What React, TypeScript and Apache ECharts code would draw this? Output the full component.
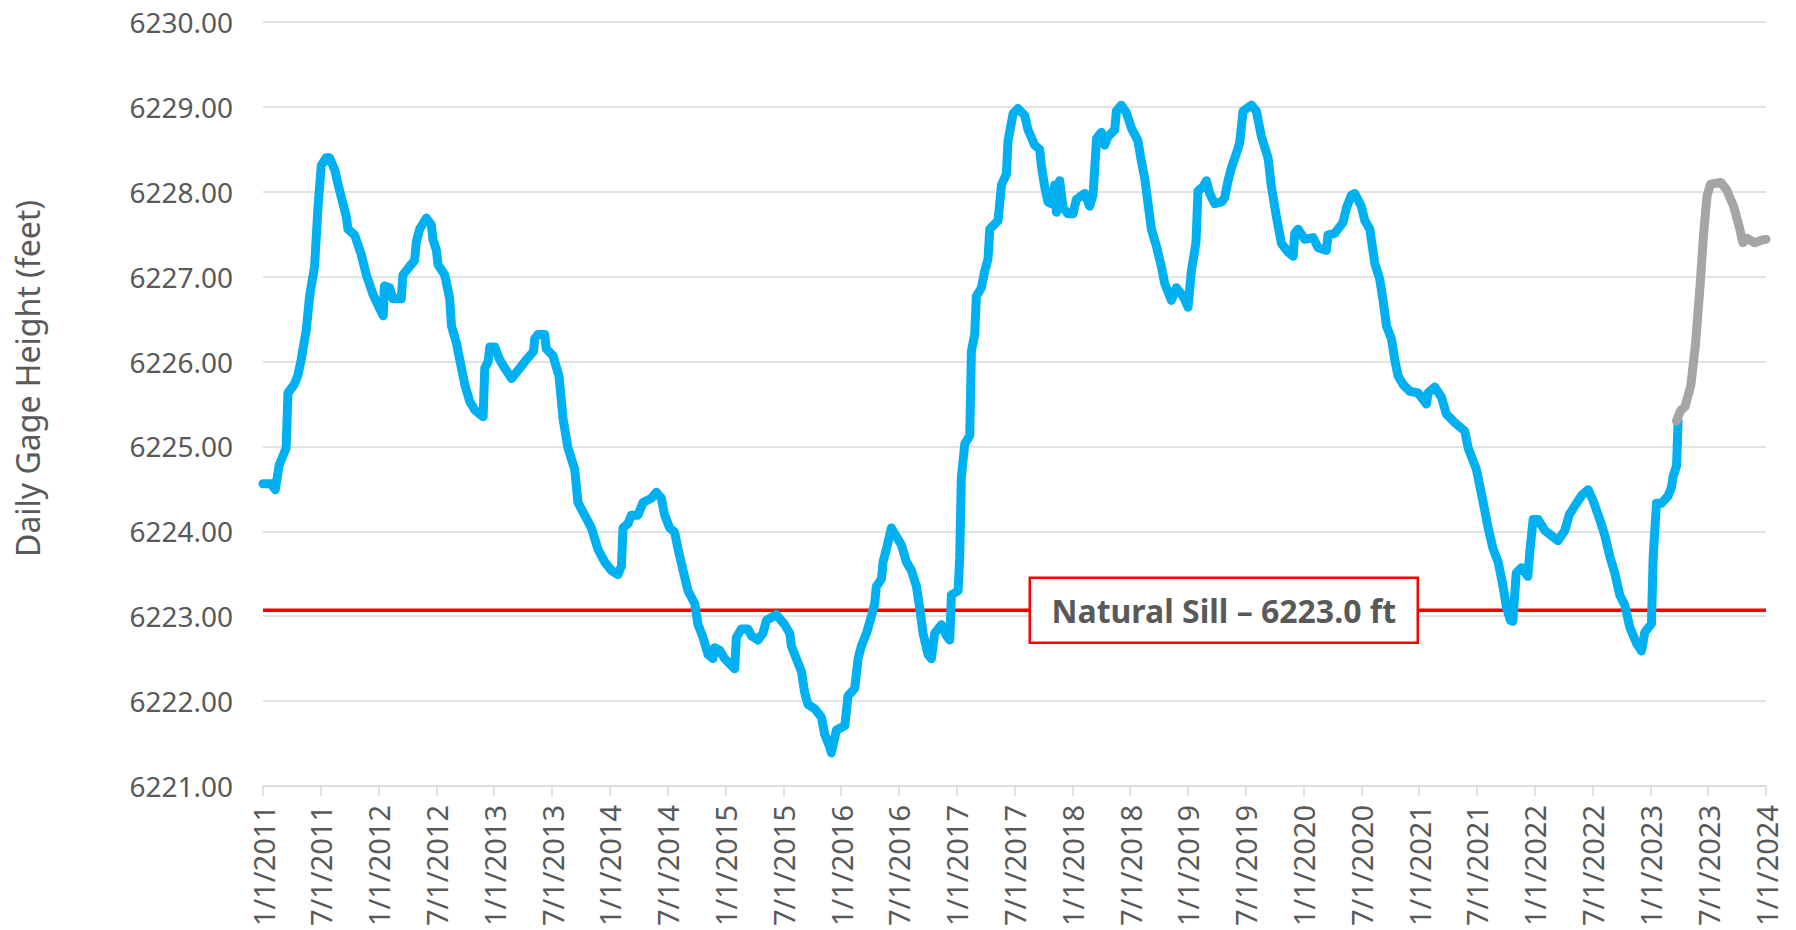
import React, { useEffect, useRef } from "react";
import * as echarts from "echarts";

// x values are decimal years (2011.5 = 7/1/2011)
const blueDates = [
  2011.0, 2011.07, 2011.106, 2011.14, 2011.2, 2011.216, 2011.27, 2011.3, 2011.33, 2011.374,
  2011.403, 2011.446, 2011.475, 2011.504, 2011.547, 2011.576, 2011.62, 2011.663, 2011.72, 2011.735,
  2011.793, 2011.85, 2011.894, 2011.952, 2012.01, 2012.04, 2012.05, 2012.095, 2012.124, 2012.196,
  2012.21, 2012.268, 2012.311, 2012.326, 2012.355, 2012.413, 2012.456, 2012.47, 2012.5, 2012.514,
  2012.572, 2012.615, 2012.63, 2012.673, 2012.702, 2012.745, 2012.788, 2012.832, 2012.904, 2012.918,
  2012.947, 2012.962, 2013.005, 2013.048, 2013.092, 2013.15, 2013.22, 2013.277, 2013.34, 2013.35,
  2013.378, 2013.436, 2013.45, 2013.508, 2013.56, 2013.595, 2013.638, 2013.696, 2013.724, 2013.782,
  2013.84, 2013.897, 2013.955, 2014.013, 2014.07, 2014.1, 2014.114, 2014.157, 2014.186, 2014.243,
  2014.287, 2014.359, 2014.402, 2014.445, 2014.474, 2014.517, 2014.56, 2014.59, 2014.633, 2014.676,
  2014.734, 2014.763, 2014.806, 2014.849, 2014.892, 2014.907, 2014.95, 2014.993, 2015.08, 2015.094,
  2015.137, 2015.195, 2015.224, 2015.281, 2015.325, 2015.354, 2015.44, 2015.512, 2015.556, 2015.57,
  2015.613, 2015.657, 2015.685, 2015.714, 2015.772, 2015.83, 2015.858, 2015.902, 2015.916, 2015.96,
  2016.032, 2016.06, 2016.118, 2016.147, 2016.176, 2016.22, 2016.262, 2016.291, 2016.305, 2016.349,
  2016.363, 2016.392, 2016.435, 2016.478, 2016.522, 2016.565, 2016.608, 2016.652, 2016.68, 2016.709,
  2016.752, 2016.781, 2016.81, 2016.868, 2016.911, 2016.94, 2016.954, 2017.012, 2017.026, 2017.04,
  2017.07, 2017.113, 2017.127, 2017.156, 2017.17, 2017.214, 2017.243, 2017.271, 2017.286, 2017.358,
  2017.387, 2017.43, 2017.444, 2017.488, 2017.53, 2017.588, 2017.617, 2017.674, 2017.718, 2017.732,
  2017.761, 2017.79, 2017.819, 2017.848, 2017.862, 2017.891, 2017.92, 2017.963, 2018.006, 2018.035,
  2018.107, 2018.15, 2018.179, 2018.193, 2018.21, 2018.251, 2018.28, 2018.309, 2018.367, 2018.381,
  2018.424, 2018.468, 2018.511, 2018.568, 2018.597, 2018.626, 2018.655, 2018.684, 2018.727, 2018.77,
  2018.799, 2018.828, 2018.857, 2018.9, 2018.958, 2019.001, 2019.03, 2019.059, 2019.07, 2019.087,
  2019.131, 2019.16, 2019.188, 2019.232, 2019.29, 2019.318, 2019.347, 2019.376, 2019.419, 2019.448,
  2019.477, 2019.549, 2019.592, 2019.636, 2019.693, 2019.722, 2019.765, 2019.809, 2019.866, 2019.91,
  2019.924, 2019.953, 2020.01, 2020.083, 2020.126, 2020.198, 2020.212, 2020.27, 2020.342, 2020.371,
  2020.414, 2020.443, 2020.5, 2020.53, 2020.573, 2020.616, 2020.659, 2020.688, 2020.717, 2020.76,
  2020.789, 2020.818, 2020.861, 2020.919, 2020.991, 2021.063, 2021.077, 2021.135, 2021.193, 2021.236,
  2021.308, 2021.395, 2021.424, 2021.495, 2021.539, 2021.597, 2021.64, 2021.683, 2021.726, 2021.755,
  2021.79, 2021.81, 2021.84, 2021.885, 2021.94, 2021.957, 2021.986, 2022.03, 2022.087, 2022.144,
  2022.2, 2022.26, 2022.3, 2022.346, 2022.404, 2022.462, 2022.505, 2022.562, 2022.606, 2022.65,
  2022.692, 2022.735, 2022.779, 2022.822, 2022.88, 2022.923, 2022.952, 2023.009, 2023.024, 2023.053,
  2023.096, 2023.154, 2023.183, 2023.197, 2023.226, 2023.24,
];
const blueLevels = [
  6224.56, 6224.56, 6224.49, 6224.78, 6224.98, 6225.63, 6225.73, 6225.83, 6226.02, 6226.37,
  6226.77, 6227.12, 6227.81, 6228.31, 6228.4, 6228.4, 6228.26, 6228.01, 6227.71, 6227.56,
  6227.49, 6227.26, 6227.02, 6226.79, 6226.62, 6226.54, 6226.89, 6226.87, 6226.74, 6226.74,
  6227.02, 6227.12, 6227.19, 6227.41, 6227.56, 6227.69, 6227.61, 6227.44, 6227.31, 6227.14,
  6227.02, 6226.74, 6226.42, 6226.22, 6226.02, 6225.73, 6225.53, 6225.43, 6225.35, 6225.92,
  6226.0, 6226.17, 6226.17, 6226.02, 6225.92, 6225.8, 6225.92, 6226.02, 6226.12, 6226.27,
  6226.32, 6226.32, 6226.15, 6226.07, 6225.83, 6225.33, 6224.98, 6224.73, 6224.34, 6224.19,
  6224.04, 6223.79, 6223.64, 6223.54, 6223.49, 6223.59, 6224.04, 6224.09, 6224.19, 6224.19,
  6224.34, 6224.39, 6224.46, 6224.39, 6224.19, 6224.04, 6223.99, 6223.79, 6223.54, 6223.3,
  6223.15, 6222.9, 6222.75, 6222.55, 6222.5, 6222.63, 6222.6, 6222.5, 6222.38, 6222.75,
  6222.85, 6222.85, 6222.77, 6222.72, 6222.8, 6222.95, 6223.02, 6222.9, 6222.8, 6222.65,
  6222.5, 6222.35, 6222.1, 6221.96, 6221.91, 6221.81, 6221.61, 6221.46, 6221.39, 6221.66,
  6221.71, 6222.06, 6222.15, 6222.5, 6222.65, 6222.8, 6223.0, 6223.15, 6223.35, 6223.44,
  6223.64, 6223.79, 6224.04, 6223.94, 6223.84, 6223.64, 6223.54, 6223.35, 6223.1, 6222.8,
  6222.55, 6222.5, 6222.8, 6222.9, 6222.77, 6222.72, 6223.25, 6223.3, 6223.69, 6224.63,
  6225.03, 6225.13, 6226.12, 6226.32, 6226.77, 6226.87, 6227.07, 6227.21, 6227.56, 6227.66,
  6228.08, 6228.21, 6228.6, 6228.92, 6228.98, 6228.9, 6228.73, 6228.55, 6228.5, 6228.31,
  6228.06, 6227.88, 6227.86, 6228.08, 6227.76, 6228.13, 6227.81, 6227.74, 6227.74, 6227.91,
  6227.98, 6227.83, 6227.96, 6228.26, 6228.63, 6228.7, 6228.55, 6228.65, 6228.73, 6228.95,
  6229.02, 6228.93, 6228.75, 6228.6, 6228.36, 6228.16, 6227.86, 6227.56, 6227.36, 6227.12,
  6226.92, 6226.82, 6226.72, 6226.87, 6226.77, 6226.64, 6227.07, 6227.31, 6227.41, 6228.01,
  6228.06, 6228.13, 6227.98, 6227.86, 6227.88, 6227.93, 6228.13, 6228.28, 6228.45, 6228.58,
  6228.95, 6229.02, 6228.95, 6228.65, 6228.4, 6228.06, 6227.71, 6227.39, 6227.29, 6227.24,
  6227.51, 6227.56, 6227.44, 6227.46, 6227.34, 6227.31, 6227.49, 6227.51, 6227.64, 6227.81,
  6227.96, 6227.98, 6227.83, 6227.66, 6227.56, 6227.16, 6226.97, 6226.72, 6226.42, 6226.27,
  6226.02, 6225.83, 6225.73, 6225.65, 6225.63, 6225.5, 6225.63, 6225.7, 6225.58, 6225.38,
  6225.28, 6225.18, 6224.98, 6224.73, 6224.44, 6224.04, 6223.79, 6223.64, 6223.35, 6223.1,
  6222.95, 6222.94, 6223.51, 6223.57, 6223.47, 6223.76, 6224.14, 6224.14, 6224.01, 6223.95,
  6223.89, 6224.01, 6224.2, 6224.3, 6224.42, 6224.49, 6224.36, 6224.14, 6223.95, 6223.7,
  6223.51, 6223.25, 6223.13, 6222.87, 6222.68, 6222.59, 6222.81, 6222.91, 6223.7, 6224.33,
  6224.33, 6224.42, 6224.52, 6224.65, 6224.77, 6225.3,
];
const grayDates = [
  2023.226, 2023.26, 2023.3, 2023.35, 2023.39, 2023.43, 2023.46, 2023.49, 2023.52, 2023.61,
  2023.66, 2023.72, 2023.77, 2023.8, 2023.84, 2023.9, 2023.96, 2024.0,
];
const grayLevels = [
  6225.3, 6225.42, 6225.47, 6225.72, 6226.2, 6226.9, 6227.5, 6227.95, 6228.09, 6228.11,
  6228.02, 6227.83, 6227.58, 6227.4, 6227.45, 6227.4, 6227.43, 6227.44,
];

const SILL = 6223.07;
const SILL_LABEL = "Natural Sill \u2013 6223.0 ft";
const ANNOTATION_AT = 2019.31; // date where the label box is centred on the sill line
const X_MIN = 2011;
const X_MAX = 2024;
const Y_MIN = 6221;
const Y_MAX = 6230;
const Y_TITLE = "Daily Gage Height (feet)";

const FONT = '"Noto Sans", "Open Sans", sans-serif';
const TEXT = "#595959";
const GRID = "#d9d9d9";

function xLabel(v: number): string {
  const yr = Math.floor(v + 1e-6);
  return (v - yr > 0.25 ? "7/1/" : "1/1/") + yr;
}

export default function App() {
  const ref = useRef<HTMLDivElement>(null);
  useEffect(() => {
    document.body.style.margin = "0";
    const chart = echarts.init(ref.current!, null, { renderer: "svg" });
    const blue = blueDates.map((d, i) => [d, blueLevels[i]]);
    const gray = grayDates.map((d, i) => [d, grayLevels[i]]);
    chart.setOption({
      animation: false,
      grid: { left: 263, right: 30, top: 22, bottom: 144, outerBoundsMode: "none" },
      xAxis: {
        type: "value",
        min: X_MIN,
        max: X_MAX,
        interval: 0.5,
        axisLine: { show: true, lineStyle: { color: GRID, width: 1.5 } },
        axisTick: { show: true, length: 10, lineStyle: { color: GRID, width: 1.5 } },
        splitLine: { show: false },
        axisLabel: {
          rotate: 90,
          margin: 19,
          color: TEXT,
          fontFamily: FONT,
          fontSize: 29,
          showMinLabel: true,
          showMaxLabel: true,
          formatter: xLabel,
        },
      },
      yAxis: {
        type: "value",
        min: Y_MIN,
        max: Y_MAX,
        interval: 1,
        axisLine: { show: false },
        axisTick: { show: false },
        splitLine: { show: true, lineStyle: { color: GRID, width: 1.5 } },
        axisLabel: {
          margin: 30,
          color: TEXT,
          fontFamily: FONT,
          fontSize: 28,
          formatter: (v: number) => v.toFixed(2),
        },
      },
      series: [
        {
          name: "Natural Sill",
          type: "line",
          data: [
            [X_MIN, SILL],
            [X_MAX, SILL],
          ],
          showSymbol: false,
          lineStyle: { color: "#ff0000", width: 3.5 },
          silent: true,
          z: 1,
        },
        {
          name: "Gage Height",
          type: "line",
          data: blue,
          showSymbol: false,
          lineStyle: { color: "#00b0f0", width: 9, cap: "round", join: "round" },
          z: 3,
        },
        {
          name: "Gage Height (provisional)",
          type: "line",
          data: gray,
          showSymbol: false,
          lineStyle: { color: "#a5a5a5", width: 9, cap: "round", join: "round" },
          z: 3,
        },
      ],
    });
    const [cx, cy] = chart.convertToPixel({ xAxisIndex: 0, yAxisIndex: 0 }, [ANNOTATION_AT, SILL]) as number[];
    chart.setOption({
      graphic: [
        {
          type: "text",
          x: 27.5,
          y: 378.5,
          rotation: Math.PI / 2,
          z: 100,
          style: {
            text: Y_TITLE,
            fill: TEXT,
            font: `32px ${FONT}`,
            align: "center",
            verticalAlign: "middle",
          },
        },
        {
          type: "group",
          x: cx,
          y: cy,
          z: 100,
          children: [
            {
              type: "rect",
              z: 100,
              shape: { x: -194, y: -32.5, width: 388, height: 65 },
              style: { fill: "#ffffff", stroke: "#ff0000", lineWidth: 2.5 },
            },
            {
              type: "text",
              z: 101,
              x: 0,
              y: 0,
              style: {
                text: SILL_LABEL,
                fill: TEXT,
                font: `bold 32px ${FONT}`,
                align: "center",
                verticalAlign: "middle",
              },
            },
          ],
        },
      ],
    });
    return () => chart.dispose();
  }, []);
  return <div ref={ref} style={{ width: 1796, height: 930 }} />;
}
